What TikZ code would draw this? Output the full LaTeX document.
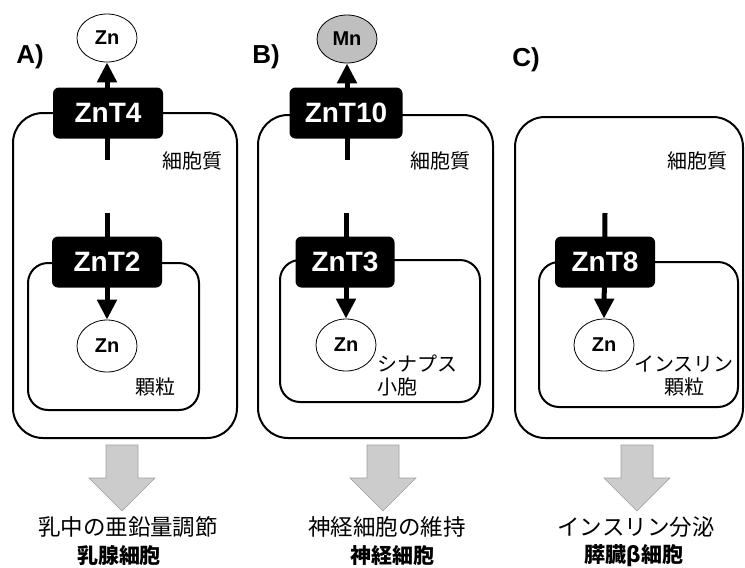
\documentclass[tikz,border=0pt]{standalone}
\usepackage{fontspec}
\setmainfont{Liberation Sans}
\newfontfamily\jpfont{Noto Sans CJK JP}
\usetikzlibrary{shapes.geometric,arrows.meta,positioning}

\begin{document}
\begin{tikzpicture}[x=1pt, y=-1pt,
  cell/.style={draw, line width=2pt, rounded corners=30pt, inner sep=0pt},
  granule/.style={draw, line width=2pt, rounded corners=20pt, inner sep=0pt},
  znt/.style={rectangle, rounded corners=6pt, fill=black, text=white, minimum width=110pt,
              minimum height=51pt, inner sep=0pt, font=\fontsize{28}{30}\selectfont\bfseries},
  ion/.style={ellipse, draw, line width=0.8pt, fill=white, minimum width=60pt, minimum height=50pt,
              inner sep=0pt, font=\fontsize{20}{22}\selectfont\bfseries},
  flow/.style={-{Triangle[length=20pt, width=19pt]}, line width=5pt},
  tag/.style={font=\fontsize{26}{28}\selectfont\bfseries},
  jlabel/.style={font=\jpfont\fontsize{20}{23}\selectfont, align=center, inner sep=0pt},
  result/.style={font=\jpfont\fontsize{22.5}{24}\selectfont, inner sep=0pt},
  organ/.style={font=\jpfont\bfseries\fontsize{21}{24}\selectfont, inner sep=0pt},
  downarrow/.pic={\draw[fill=gray!40, draw=gray!75, line width=0.6pt]
      (-16,0) -- (16,0) -- (16,33) -- (33,33) -- (0,66) -- (-33,33) -- (-16,33) -- cycle;}
]
\useasboundingbox (0,0) rectangle (745,568);

% cells
\node[cell, minimum width=224pt, minimum height=325pt] (cellA) at (125,275.5) {};
\node[cell, minimum width=235pt, minimum height=323pt] (cellB) at (375.5,276.5) {};
\node[cell, minimum width=228pt, minimum height=321pt] (cellC) at (629,277.5) {};

% granules / vesicles
\node[granule, minimum width=171pt, minimum height=147pt] (grA) at (113.5,336.5) {};
\node[granule, minimum width=200pt, minimum height=142pt] (grB) at (380,331) {};
\node[granule, minimum width=199pt, minimum height=145pt] (grC) at (638.5,334.5) {};

% panel tags
\node[tag] (tagA) at (30,57) {A)};
\node[tag] (tagB) at (266,57) {B)};
\node[tag] (tagC) at (526,60) {C)};

% ions
\node[ion, minimum height=48pt] (znA) at (107,38) {Zn};
\node[ion, minimum height=48pt, fill=gray!50] (mnB) at (347,39) {Mn};
\node[ion, minimum height=52pt] (znA2) at (107,346) {Zn};
\node[ion, minimum height=52pt] (znB2) at (346,345) {Zn};
\node[ion, minimum height=52pt] (znC2) at (604,345) {Zn};

% transport arrows
\coordinate (sA) at (107,160);
\coordinate (sB) at (347,160);
\coordinate (sA2) at (107,213);
\coordinate (sB2) at (346,213);
\coordinate (sC2) at (605,213);
\draw[flow] (sA) -- (znA.south);
\draw[flow] (sB) -- (mnB.south);
\draw[flow] (sA2) -- (znA2.north);
\draw[flow] (sB2) -- (znB2.north);
\draw[flow] (sC2) -- (znC2.north);

% transporters
\node[znt] (znt4) at (108,113) {ZnT4};
\node[znt, minimum width=113pt] (znt10) at (346,113) {ZnT10};
\node[znt] (znt2) at (107,262) {ZnT2};
\node[znt, minimum width=99pt] (znt3) at (345,262) {ZnT3};
\node[znt, minimum width=100pt] (znt8) at (605,262) {ZnT8};

% compartment labels
\node[jlabel] (cytA) at (192,161) {細胞質};
\node[jlabel] (cytB) at (440,161) {細胞質};
\node[jlabel] (cytC) at (697,161) {細胞質};
\node[jlabel] (labA) at (155,387) {顆粒};
\node[jlabel, align=left, anchor=north west] (labB) at (377,355) {シナプス\\小胞};
\node[jlabel] (labC) at (684,376) {インスリン\\顆粒};

% outcomes
\pic at (122,445) {downarrow};
\pic at (383,445) {downarrow};
\pic at (637,445) {downarrow};
\node[result] (resA) at (128,527) {乳中の亜鉛量調節};
\node[result] (resB) at (387,527) {神経細胞の維持};
\node[result] (resC) at (636,527) {インスリン分泌};
\node[organ] (orgA) at (119,556) {乳腺細胞};
\node[organ] (orgB) at (392,556) {神経細胞};
\node[organ] (orgC) at (634,556) {膵臓β細胞};
\end{tikzpicture}
\end{document}
